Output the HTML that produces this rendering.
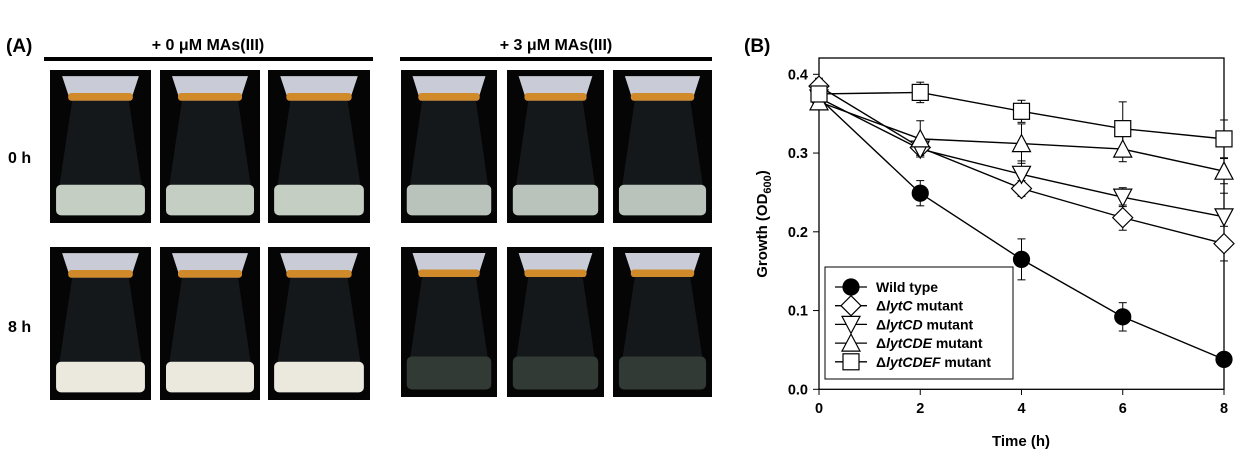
<!DOCTYPE html>
<html><head><meta charset="utf-8"><style>
body{margin:0;background:#fff;width:1249px;height:462px;overflow:hidden}
svg{font-family:"Liberation Sans",Arial,sans-serif;font-weight:bold}
</style></head><body>
<svg id="s" width="1249" height="462" viewBox="0 0 1249 462" xmlns="http://www.w3.org/2000/svg">
<text x="6" y="52" font-size="19">(A)</text>
<text x="744" y="52" font-size="19">(B)</text>
<text x="208" y="50" font-size="16" text-anchor="middle">+ 0 μM MAs(III)</text>
<text x="556" y="50" font-size="16" text-anchor="middle">+ 3 μM MAs(III)</text>
<rect x="44" y="57" width="329" height="4" fill="#000"/>
<rect x="400" y="57" width="312" height="4" fill="#000"/>
<text x="8" y="163" font-size="16">0 h</text>
<text x="8" y="332" font-size="16">8 h</text>
<g id="photos"></g>
<g id="chart" font-size="14.5"></g>
</svg>
<script>
const ns="http://www.w3.org/2000/svg";
function el(p,t,a,txt){const e=document.createElementNS(ns,t);for(const k in a)e.setAttribute(k,a[k]);if(txt!==undefined)e.textContent=txt;p.appendChild(e);return e;}
const P=document.getElementById('photos');
function flask(x,y,w,h,liq,lh){
 el(P,'rect',{x:x,y:y,width:w,height:h,fill:'#050505'});
 const cx=x+w/2;
 el(P,'polygon',{points:`${cx-w*0.28},${y+h*0.2} ${cx+w*0.28},${y+h*0.2} ${x+w*0.94},${y+h*0.9} ${x+w*0.06},${y+h*0.9}`,fill:'#15181a'});
 el(P,'rect',{x:x+w*0.06,y:y+h*(1-lh)-h*0.05,width:w*0.88,height:h*lh,fill:liq,rx:5});
 el(P,'polygon',{points:`${cx-w*0.38},${y+h*0.04} ${cx+w*0.38},${y+h*0.04} ${cx+w*0.3},${y+h*0.2} ${cx-w*0.3},${y+h*0.2}`,fill:'#c9ccd6'});
 el(P,'rect',{x:cx-w*0.32,y:y+h*0.15,width:w*0.64,height:h*0.05,fill:'#d08a2a',rx:3});
}
const cols1=[[50,101],[160,100],[268,102]], cols2=[[401,96],[507,97],[613,99]];
cols1.forEach(c=>{flask(c[0],70,c[1],153,'#c5cec2',0.2);flask(c[0],247,c[1],153,'#ebe8de',0.2);});
cols2.forEach(c=>{flask(c[0],70,c[1],153,'#b9c2bb',0.2);flask(c[0],247,c[1],150,'#323a35',0.22);});
const C=document.getElementById('chart');
const X=t=>819+t*50.625, Y=v=>389.3-v*787.5;
el(C,'rect',{x:819,y:58,width:405,height:331.3,fill:'none',stroke:'#000','stroke-width':1.3});
[0,0.1,0.2,0.3,0.4].forEach(v=>{el(C,'line',{x1:813,x2:819,y1:Y(v),y2:Y(v),stroke:'#000'});el(C,'text',{x:808,y:Y(v)+5,'text-anchor':'end'},v.toFixed(1));});
[0,2,4,6,8].forEach(t=>{el(C,'line',{x1:X(t),x2:X(t),y1:389,y2:395,stroke:'#000'});el(C,'text',{x:X(t),y:413,'text-anchor':'middle'},t);});
el(C,'text',{x:1021,y:446,'text-anchor':'middle','font-size':15},'Time (h)');
const yl=el(C,'text',{transform:'translate(767,224) rotate(-90)','text-anchor':'middle','font-size':15},'Growth (OD');
el(yl,'tspan',{'font-size':11,dy:4},'600');el(yl,'tspan',{dy:-4},')');
const D=[
 ['c',[0.37,0.249,0.165,0.092,0.038],[0.015,0.016,0.026,0.018,0]],
 ['d',[0.385,0.307,0.255,0.218,0.185],[0.01,0.01,0.01,0.016,0.022]],
 ['v',[0.37,0.305,0.273,0.244,0.219],[0.01,0.01,0.017,0.012,0.03]],
 ['u',[0.365,0.318,0.312,0.305,0.277],[0.01,0.023,0.025,0.016,0.016]],
 ['s',[0.375,0.377,0.353,0.331,0.318],[0.01,0.013,0.014,0.034,0.024]]];
function mk(g,k,x,y){const a={fill:k=='c'?'#000':'#fff',stroke:'#000','stroke-width':1.2};
 if(k=='c')el(g,'circle',Object.assign({cx:x,cy:y,r:8},a));
 else if(k=='s')el(g,'rect',Object.assign({x:x-8,y:y-8,width:16,height:16},a));
 else if(k=='d')el(g,'polygon',Object.assign({points:`${x},${y-10} ${x+10},${y} ${x},${y+10} ${x-10},${y}`},a));
 else if(k=='v')el(g,'polygon',Object.assign({points:`${x-9},${y-8} ${x+9},${y-8} ${x},${y+9}`},a));
 else el(g,'polygon',Object.assign({points:`${x-9},${y+8} ${x+9},${y+8} ${x},${y-9}`},a));}
D.forEach(([k,v,e])=>{
 el(C,'polyline',{points:v.map((a,i)=>X(2*i)+','+Y(a)).join(' '),fill:'none',stroke:'#000','stroke-width':1.4});
 v.forEach((a,i)=>{if(e[i]){const x=X(2*i);el(C,'line',{x1:x,x2:x,y1:Y(a+e[i]),y2:Y(a-e[i]),stroke:'#000'});[a+e[i],a-e[i]].forEach(b=>el(C,'line',{x1:x-4,x2:x+4,y1:Y(b),y2:Y(b),stroke:'#000'}));}});});
D.forEach(([k,v])=>v.forEach((a,i)=>mk(C,k,X(2*i),Y(a))));
el(C,'rect',{x:825,y:267,width:188,height:112,fill:'#fff',stroke:'#000'});
const L=[['c','Wild type'],['d','lytC'],['v','lytCD'],['u','lytCDE'],['s','lytCDEF']];
L.forEach(([k,t],i)=>{const y=287+i*18.7;el(C,'line',{x1:835,x2:867,y1:y,y2:y,stroke:'#000','stroke-width':1.3});mk(C,k,851,y);
 const tx=el(C,'text',{x:876,y:y+5,'font-size':14});
 if(i==0)tx.textContent=t;else{el(tx,'tspan',{},'Δ');el(tx,'tspan',{'font-style':'italic'},t);el(tx,'tspan',{},' mutant');}});
</script>
</body></html>
